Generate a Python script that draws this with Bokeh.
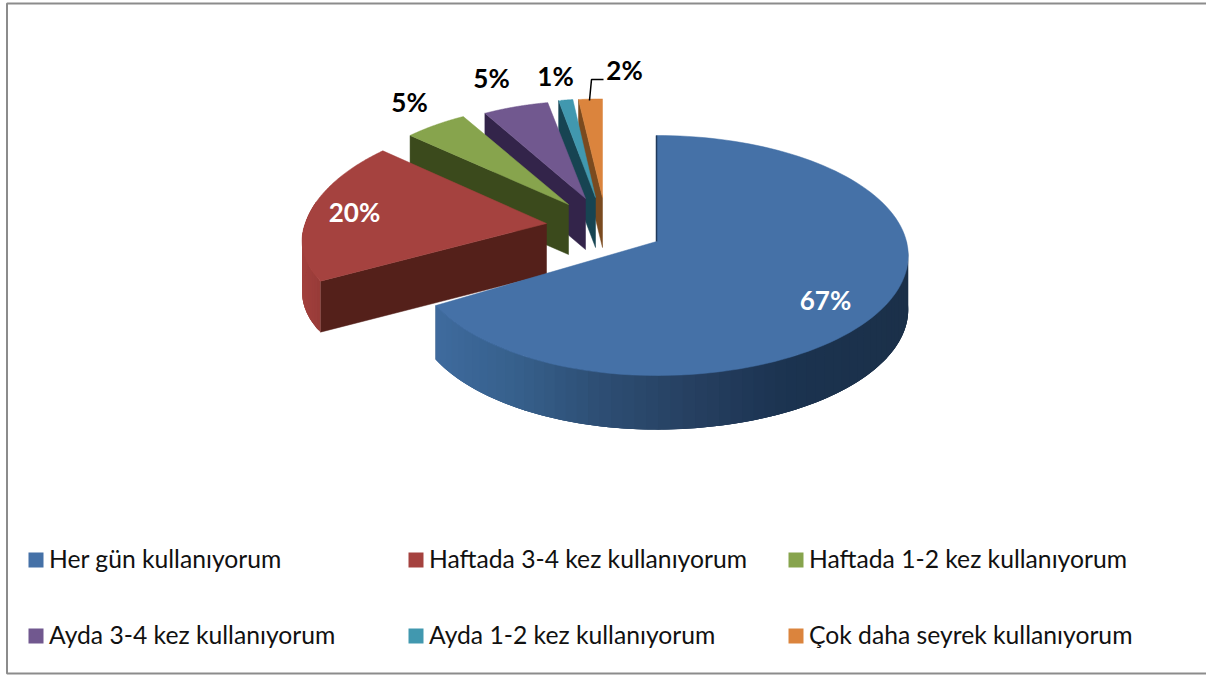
import numpy as np
from bokeh.plotting import figure
from bokeh.models import Range1d
from bokeh.core.properties import value
from bokeh.embed import file_html
from bokeh.resources import INLINE

# ---- data ----
categories = ["Her gün kullanıyorum", "Haftada 3-4 kez kullanıyorum", "Haftada 1-2 kez kullanıyorum",
              "Ayda 3-4 kez kullanıyorum", "Ayda 1-2 kez kullanıyorum", "Çok daha seyrek kullanıyorum"]
shares = [66.5, 20.0, 5.0, 5.4, 1.2, 1.9]
labels = ["67%", "20%", "5%", "5%", "1%", "2%"]

# ---- style / layout ----
top_colors = ["#4571a7", "#a5423f", "#87a44d", "#71588f", "#4198af", "#db843d"]
cut_colors = ["#1f3a5c", "#54201a", "#3b4a1c", "#33244a", "#174452", "#7a4a1f"]
apex_x = [656, 546, 568, 585, 595, 602]
apex_y = [241, 223, 204, 198, 197, 197]
left_scale = [0.965, 0.965, 0.91, 0.87, 0.85, 0.90]
up_scale = [1.0, 1.0, 0.95, 0.92, 0.93, 0.93]
down_scale = [1.0, 0.90, 1.0, 1.0, 1.0, 1.0]
x_persp = [0.1167, 0.16, 0.1167, 0.1167, 0.1167, 0.1167]
depth_px = [54, 51, 50, 51, 50, 50]
label_x = [825, 354, 409, 491, 555, 624]
label_y = [299, 211, 101, 77, 75, 69]
label_color = ["white", "white", "black", "black", "black", "black"]
legend_x = [28, 408, 788, 28, 408, 788]
legend_y = [552, 552, 552, 628, 628, 628]
A, B, K = 250.0, 118.4, 0.1167

p = figure(width=1206, height=675, output_backend="svg", toolbar_location=None,
           x_range=Range1d(0, 1206), y_range=Range1d(675, 0),
           x_axis_type="linear", min_border=0)
p.axis.visible = False
p.grid.visible = False
p.outline_line_color = None
p.background_fill_color = "white"
p.border_fill_color = "white"


def proj(theta, i):
    theta = np.asarray(theta, dtype=float)
    u, v = np.sin(theta), np.cos(theta)
    sx = np.where(u < 0, left_scale[i], 1.0)
    sy = np.where(v > 0, up_scale[i], down_scale[i])
    return apex_x[i] + sx * A * u / (1 + x_persp[i] * v), apex_y[i] - sy * B * v / (1 + K * v)


def mix(stops, t):
    xs = [a for a, _ in stops]
    rgb = [np.interp(t, xs, [int(c[1:][j:j + 2], 16) for _, c in stops]) for j in (0, 2, 4)]
    return "#%02x%02x%02x" % tuple(int(round(c)) for c in rgb)


wall_stops = {
    0: [(436, "#3f6b9e"), (520, "#36608c"), (600, "#2e4f75"), (700, "#263f60"), (790, "#1b3350"), (908, "#1b3049")],
    1: [(302, "#a2413e"), (325, "#953a37")],
}

edges = np.cumsum([0] + shares) / 100 * 2 * np.pi

# painter's order: back slices first, blue last
for i in [5, 4, 3, 2, 1, 0]:
    t0, t1 = edges[i], edges[i + 1]
    dz = depth_px[i]
    if i > 0:
        ox, oy = proj(t0, i)
        p.patch([apex_x[i], apex_x[i], float(ox), float(ox)], [apex_y[i], apex_y[i] + dz, float(oy) + dz, float(oy)],
                fill_color=cut_colors[i], line_color=cut_colors[i], line_width=0.5)
    if i in wall_stops:
        lo = max(t0, np.pi / 2) if i == 0 else t0
        hi = min(t1, 1.56 * np.pi)
        ts = np.linspace(lo, hi, 61)
        # each quad runs on to the wall's far end; later ones paint over it, so no seams appear
        for k in range(len(ts) - 1):
            seg = np.linspace(ts[k], ts[-1] if k == 0 else ts[min(k + 3, len(ts) - 1)], 6)
            xa, ya = proj(seg, i)
            c = mix(wall_stops[i], float(proj(ts[k], i)[0]))
            p.patch(np.r_[xa, xa[::-1]], np.r_[ya, ya[::-1] + dz], fill_color=c, line_color=None)
    ts = np.linspace(t0, t1, 120)
    ox, oy = proj(ts, i)
    p.patch(np.r_[apex_x[i], ox], np.r_[apex_y[i], oy], fill_color=top_colors[i], line_color=top_colors[i],
            line_width=0.5)

ex, ey = proj(0.0, 0)
p.line([apex_x[0], float(ex)], [apex_y[0], float(ey)], line_color="#1f3a5c", line_width=1.5)

p.line([589, 591, 603], [100, 79, 79], line_color="black", line_width=1.5)

p.text(label_x, label_y, text=labels, text_color=label_color, text_font=value("Lato"),
       text_font_style="bold", text_font_size="26px", text_align="center", text_baseline="middle")

p.rect([x + 7.5 for x in legend_x], [y + 7.5 for y in legend_y], width=15, height=15,
       fill_color=top_colors, line_color=None)
p.text([x + 20.5 for x in legend_x], [y + 5.5 for y in legend_y], text=categories, text_color="#111111",
       text_font=value("Lato"), text_font_size="24.7px", text_align="left", text_baseline="middle")

p.line([1206, 6.5, 6.5, 1206], [3, 3, 673, 673], line_color="#8c8c8c", line_width=2)

open("out.html", "w").write(file_html(p, INLINE))
